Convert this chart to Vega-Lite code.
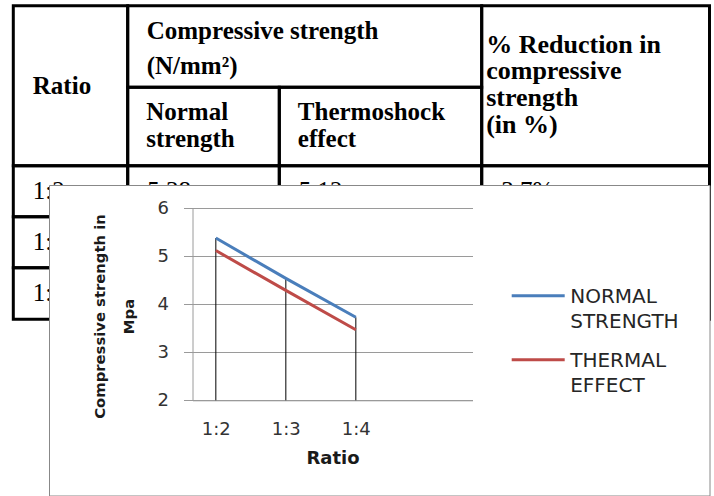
{
  "$schema": "https://vega.github.io/schema/vega-lite/v6.json",
  "padding": 0,
  "background": "white",
  "bounds": "flush",
  "spacing": 0,
  "config": {"view": {"stroke": null}},
  "vconcat": [
    {
      "width": 714,
      "height": 185,
      "data": {"values": [
        {"kind": "header", "c0": 0, "c1": 1, "r0": 0, "r1": 2, "text": ["Ratio"]},
        {"kind": "header", "c0": 1, "c1": 3, "r0": 0, "r1": 1, "text": ["Compressive strength", "(N/mm²)"]},
        {"kind": "header", "c0": 1, "c1": 2, "r0": 1, "r1": 2, "text": ["Normal", "strength"]},
        {"kind": "header", "c0": 2, "c1": 3, "r0": 1, "r1": 2, "text": ["Thermoshock", "effect"]},
        {"kind": "header", "c0": 3, "c1": 4, "r0": 0, "r1": 2, "text": ["% Reduction in", "compressive", "strength", "(in %)"]},
        {"kind": "data", "c0": 0, "c1": 1, "r0": 2, "r1": 3, "text": ["1:2"]},
        {"kind": "data", "c0": 1, "c1": 2, "r0": 2, "r1": 3, "text": ["5.38"]},
        {"kind": "data", "c0": 2, "c1": 3, "r0": 2, "r1": 3, "text": ["5.12"]},
        {"kind": "data", "c0": 3, "c1": 4, "r0": 2, "r1": 3, "text": ["3.7%"]},
        {"kind": "data", "c0": 0, "c1": 1, "r0": 3, "r1": 4, "text": ["1:3"]},
        {"kind": "data", "c0": 1, "c1": 2, "r0": 3, "r1": 4},
        {"kind": "data", "c0": 2, "c1": 3, "r0": 3, "r1": 4},
        {"kind": "data", "c0": 3, "c1": 4, "r0": 3, "r1": 4},
        {"kind": "data", "c0": 0, "c1": 1, "r0": 4, "r1": 5, "text": ["1:4"]},
        {"kind": "data", "c0": 1, "c1": 2, "r0": 4, "r1": 5},
        {"kind": "data", "c0": 2, "c1": 3, "r0": 4, "r1": 5},
        {"kind": "data", "c0": 3, "c1": 4, "r0": 4, "r1": 5}
      ]},
      "encoding": {
        "x": {"field": "c0", "type": "quantitative", "axis": null,
              "scale": {"domain": [0, 1, 2, 3, 4], "range": [13.3, 127.7, 279.3, 481.7, 709.5], "zero": false, "nice": false}},
        "y": {"field": "r0", "type": "quantitative", "axis": null,
              "scale": {"domain": [0, 1, 2, 3, 4, 5], "range": [5.7, 87.3, 165.7, 216.7, 267.7, 319.3], "zero": false, "nice": false}}
      },
      "layer": [
        {
          "mark": {"type": "rect", "filled": false, "stroke": "black", "strokeWidth": 3, "clip": false},
          "encoding": {"x2": {"field": "c1"}, "y2": {"field": "r1"}}
        },
        {
          "transform": [{"filter": "datum.kind == 'header' && datum.c0 == 0"}],
          "mark": {"type": "text", "align": "left", "baseline": "top", "font": "Liberation Serif", "fontWeight": "bold", "fontSize": 25, "color": "black", "dx": 19.5, "dy": 68.5},
          "encoding": {"text": {"field": "text"}}
        },
        {
          "transform": [{"filter": "datum.kind == 'header' && datum.r1 == 1"}],
          "mark": {"type": "text", "align": "left", "baseline": "top", "font": "Liberation Serif", "fontWeight": "bold", "fontSize": 25, "color": "black", "dx": 19, "dy": 13.5, "lineHeight": 35},
          "encoding": {"text": {"field": "text"}}
        },
        {
          "transform": [{"filter": "datum.kind == 'header' && datum.r0 == 1"}],
          "mark": {"type": "text", "align": "left", "baseline": "top", "font": "Liberation Serif", "fontWeight": "bold", "fontSize": 25, "color": "black", "dx": 18.5, "dy": 13, "lineHeight": 27},
          "encoding": {"text": {"field": "text"}}
        },
        {
          "transform": [{"filter": "datum.kind == 'header' && datum.c0 == 3"}],
          "mark": {"type": "text", "align": "left", "baseline": "top", "font": "Liberation Serif", "fontWeight": "bold", "fontSize": 26, "color": "black", "dx": 4.5, "dy": 25.8, "lineHeight": 26.7},
          "encoding": {"text": {"field": "text"}}
        },
        {
          "transform": [{"filter": "datum.kind == 'data' && isValid(datum.text)"}],
          "mark": {"type": "text", "align": "left", "baseline": "top", "font": "Liberation Serif", "fontSize": 25, "color": "black", "dx": 19.5, "dy": 13, "clip": false},
          "encoding": {"text": {"field": "text"}}
        }
      ]
    },
    {
      "hconcat": [
        {
          "width": 48.5,
          "height": 10,
          "data": {"values": [{}]},
          "mark": {"type": "text", "text": ""}
        },
        {
          "width": 660.5,
          "height": 310.5,
          "view": {"stroke": "#888888", "strokeWidth": 1, "fill": "white"},
          "data": {"values": [
            {"ratio": "1:2", "series": "NORMAL STRENGTH", "strength": 5.38},
            {"ratio": "1:3", "series": "NORMAL STRENGTH", "strength": 4.54},
            {"ratio": "1:4", "series": "NORMAL STRENGTH", "strength": 3.73},
            {"ratio": "1:2", "series": "THERMAL EFFECT", "strength": 5.12},
            {"ratio": "1:3", "series": "THERMAL EFFECT", "strength": 4.29},
            {"ratio": "1:4", "series": "THERMAL EFFECT", "strength": 3.47}
          ]},
          "encoding": {
            "x": {"field": "ratio", "type": "nominal",
                  "scale": {"type": "point", "domain": ["1:2", "1:3", "1:4"], "range": [143.5, 423.5], "padding": 1.5, "align": 0.16667},
                  "axis": {"orient": "bottom", "offset": -95.2, "ticks": false, "tickSize": 0, "grid": false,
                           "domainColor": "#9a9a9a", "domainWidth": 1,
                           "labelAngle": 0, "labelFont": "DejaVu Sans", "labelFontSize": 18, "labelColor": "#333333", "labelPadding": 20,
                           "title": "Ratio", "titleFont": "DejaVu Sans", "titleFontSize": 18, "titleFontWeight": "bold", "titleColor": "#1a1a1a",
                           "titleBaseline": "alphabetic", "titleY": 63.5}},
            "y": {"field": "strength", "type": "quantitative",
                  "scale": {"domain": [2, 6], "range": [215.3, 23.3], "zero": false, "nice": false},
                  "axis": {"orient": "left", "offset": -143.5, "values": [2, 3, 4, 5, 6],
                           "grid": true, "gridColor": "#9a9a9a", "gridWidth": 1,
                           "domainColor": "#9a9a9a", "tickColor": "#9a9a9a", "tickSize": 9,
                           "labelFont": "DejaVu Sans", "labelFontSize": 18, "labelColor": "#333333", "labelPadding": 15,
                           "title": ["Compressive strength in", "Mpa"], "titleFont": "DejaVu Sans", "titleFontSize": 14.8, "titleFontWeight": "bold", "titleColor": "#1a1a1a",
                           "titleAngle": 270, "titleAlign": "center", "titleBaseline": "alphabetic", "titleLineHeight": 28.4,
                           "titleX": -87.7, "titleY": 131}}
          },
          "layer": [
            {
              "transform": [{"aggregate": [{"op": "max", "field": "strength", "as": "strength"}], "groupby": ["ratio"]}],
              "mark": {"type": "rule", "color": "black", "strokeWidth": 1},
              "encoding": {"y2": {"datum": 2}}
            },
            {
              "mark": {"type": "line", "strokeWidth": 3},
              "encoding": {
                "color": {"field": "series", "type": "nominal",
                          "scale": {"domain": ["NORMAL STRENGTH", "THERMAL EFFECT"], "range": ["#4A7EBB", "#BE4B48"]},
                          "legend": {"orient": "none", "legendX": 510.2, "legendY": 275.4, "title": null, "padding": 0,
                                     "symbolType": "M-1,-0.29H1", "symbolSize": 2809, "symbolStrokeWidth": 3, "symbolFillColor": "transparent",
                                     "labelFont": "DejaVu Sans", "labelFontSize": 20, "labelColor": "#262626", "labelBaseline": "alphabetic",
                                     "labelOffset": 4, "labelExpr": "split(datum.label, ' ')", "rowPadding": 7,
                                     "encode": {"labels": {"update": {"lineHeight": {"value": 25}}}}}}
              }
            }
          ]
        }
      ],
      "spacing": 0,
      "bounds": "flush"
    }
  ]
}
